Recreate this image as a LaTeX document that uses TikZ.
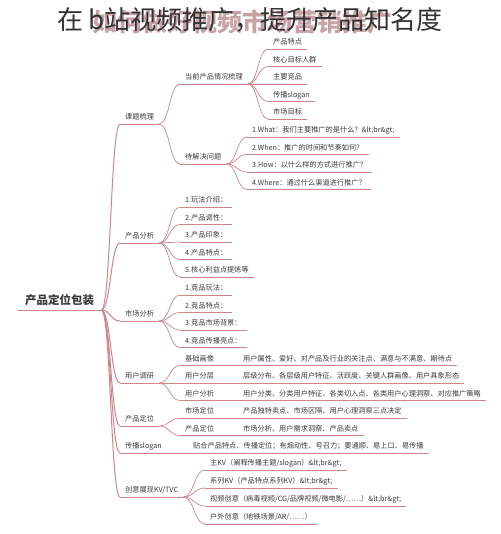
\documentclass[tikz,border=0pt]{standalone}
\usepackage{fontspec}
\setmainfont{Noto Sans CJK SC}
\usetikzlibrary{calc}

\definecolor{branch}{RGB}{206,134,138}
\definecolor{ink}{RGB}{58,58,58}
\definecolor{wmark}{RGB}{186,140,142}

\newcommand\tagbox[2]{\makebox[#1][l]{#2}}

\tikzset{
  branch line/.style={draw=branch, line width=0.7pt},
  topic/.style={anchor=south west, inner xsep=5pt, inner ysep=3pt,
    text height=6pt, text depth=1.2pt, text=ink,
    font=\fontsize{7.2}{8}\selectfont,
    append after command={(\tikzlastnode.south west) edge[branch line] (\tikzlastnode.south east)}},
  root/.style={topic, inner xsep=7pt, inner ysep=4pt, text height=10pt,
    text depth=1.5pt, font=\fontsize{11.5}{13}\selectfont\bfseries},
  fan/.style={branch line, to path={.. controls ($(\tikztostart)!0.5!(\tikztostart-|\tikztotarget)$)
    and ($(\tikztotarget)!0.5!(\tikztotarget-|\tikztostart)$) .. (\tikztotarget)}},
  trunk/.style={fan, line width=1pt}
}

\begin{document}
\begin{tikzpicture}[x=1pt, y=-1pt]
\useasboundingbox (0,0) rectangle (500,534);

% title over the faded watermark
\node[text=wmark, opacity=0.8, font=\fontsize{25}{27}\selectfont\bfseries] (mark) at (242,22) {如何做好视频市场营销推广};
\node[text=black!80, font=\fontsize{26}{28}\selectfont] (title) at (250,20) {在 b站视频推广，提升产品知名度};

% root and main branches
\node[root] (root) at (18,310) {产品定位包装};
\node[topic] (k1) at (120,124) {课题梳理};
\node[topic] (k2) at (120,243) {产品分析};
\node[topic] (k3) at (120,321) {市场分析};
\node[topic] (k4) at (120,383) {用户调研};
\node[topic] (k5) at (120,426) {产品定位};
\node[topic] (k6) at (120,453) {\tagbox{68pt}{传播slogan}贴合产品特点、传播定位；有煽动性、号召力；要通顺、易上口、易传播};
\node[topic] (k7) at (120,497) {创意展现KV/TVC};

% 课题梳理
\node[topic] (a1) at (180,84) {当前产品情况梳理};
\node[topic] (a2) at (180,164) {待解决问题};
\node[topic] (s1) at (268,49) {产品特点};
\node[topic] (s2) at (268,66.5) {核心目标人群};
\node[topic] (s3) at (268,84) {主要竞品};
\node[topic] (s4) at (268,101.5) {传播slogan};
\node[topic] (s5) at (268,119) {市场目标};
\node[topic] (q1) at (247,137) {1.What：我们主要推广的是什么？\&lt;br\&gt;};
\node[topic] (q2) at (247,154.5) {2.When：推广的时间和节奏如何？};
\node[topic] (q3) at (247,172) {3.How：以什么样的方式进行推广？};
\node[topic] (q4) at (247,189.5) {4.Where：通过什么渠道进行推广？};

% 产品分析
\node[topic] (f1) at (180,207) {1.玩法介绍：};
\node[topic] (f2) at (180,224.5) {2.产品调性：};
\node[topic] (f3) at (180,242) {3.产品印象：};
\node[topic] (f4) at (180,259.5) {4.产品特点：};
\node[topic] (f5) at (180,277) {5.核心利益点提炼等};

% 市场分析
\node[topic] (m1) at (180,295) {1.竞品玩法：};
\node[topic] (m2) at (180,312.5) {2.竞品特点：};
\node[topic] (m3) at (180,330) {3.竞品市场背景：};
\node[topic] (m4) at (180,347.5) {4.竞品传播亮点：};

% 用户调研
\node[topic] (u1) at (180,365.5) {\tagbox{58pt}{基础画像}用户属性、爱好、对产品及行业的关注点、满意与不满意、期待点};
\node[topic] (u2) at (180,383) {\tagbox{58pt}{用户分层}层级分布、各层级用户特征、活跃度、关键人群画像、用户具象形态};
\node[topic] (u3) at (180,400.5) {\tagbox{58pt}{用户分析}用户分类、分类用户特征、各类切入点、各类用户心理洞察、对应推广策略};

% 产品定位
\node[topic] (d1) at (180,418) {\tagbox{58pt}{市场定位}产品独特卖点、市场区隔、用户心理洞察三点决定};
\node[topic] (d2) at (180,435.5) {\tagbox{58pt}{产品定位}市场分析、用户需求洞察、产品卖点};

% 创意展现
\node[topic] (v1) at (205,470) {主KV（阐释传播主题/slogan）\&lt;br\&gt;};
\node[topic] (v2) at (205,488) {系列KV（产品特点系列KV）\&lt;br\&gt;};
\node[topic] (v3) at (205,506) {视频创意（病毒视频/CG/品牌视频/微电影/……）\&lt;br\&gt;};
\node[topic] (v4) at (205,524) {户外创意（地铁场景/AR/……）};

% connectors
\foreach \n in {k1,k2,k3,k4,k5,k6,k7}
  \draw[trunk] (root.south east) to (\n.south west);
\foreach \n in {a1,a2}
  \draw[fan] (k1.south east) to (\n.south west);
\foreach \n in {s1,s2,s3,s4,s5}
  \draw[fan] (a1.south east) to (\n.south west);
\foreach \n in {q1,q2,q3,q4}
  \draw[fan] (a2.south east) to (\n.south west);
\foreach \n in {f1,f2,f3,f4,f5}
  \draw[fan] (k2.south east) to (\n.south west);
\foreach \n in {m1,m2,m3,m4}
  \draw[fan] (k3.south east) to (\n.south west);
\foreach \n in {u1,u2,u3}
  \draw[fan] (k4.south east) to (\n.south west);
\foreach \n in {d1,d2}
  \draw[fan] (k5.south east) to (\n.south west);
\foreach \n in {v1,v2,v3,v4}
  \draw[fan] (k7.south east) to (\n.south west);
\end{tikzpicture}
\end{document}
